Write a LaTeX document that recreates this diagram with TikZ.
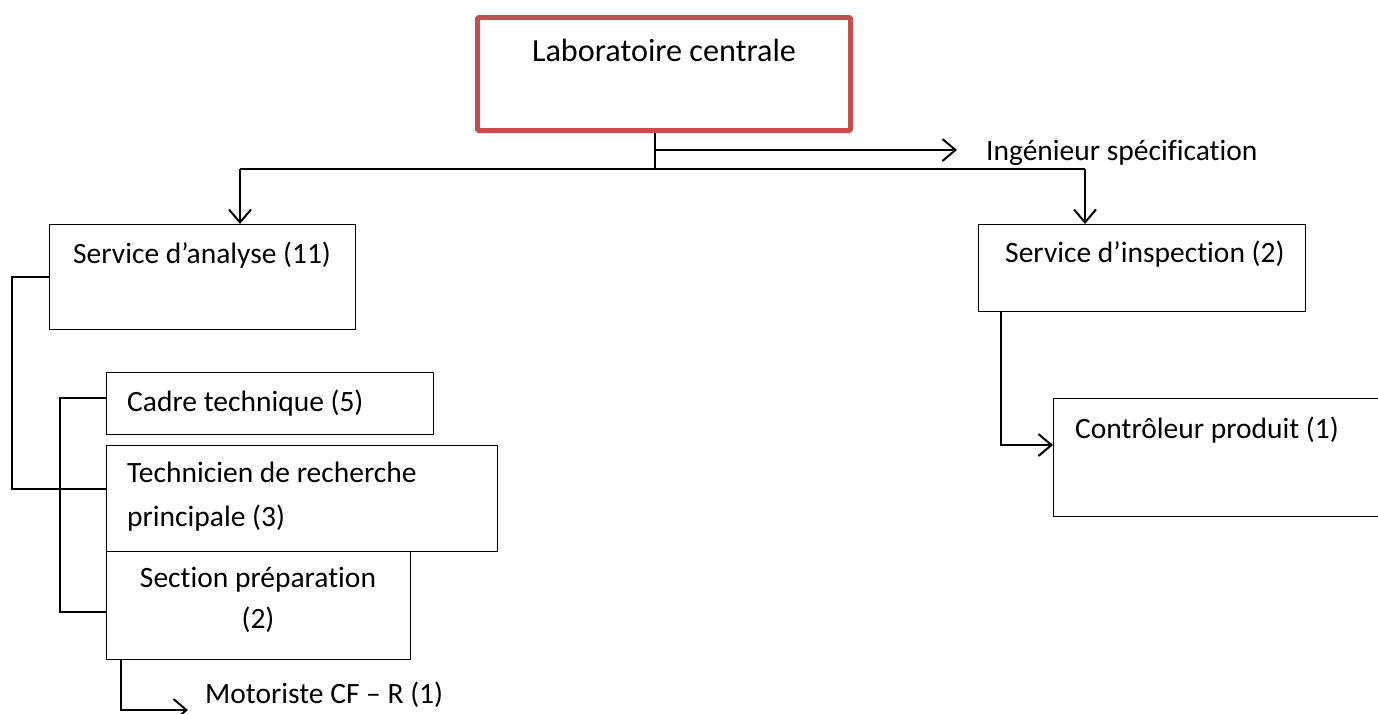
\documentclass[tikz,border=0pt]{standalone}
\usepackage{fontspec}
\setmainfont{Carlito}[Ligatures=NoCommon]
\usetikzlibrary{arrows.meta}
\definecolor{labred}{HTML}{C0504D}
\begin{document}
\begin{tikzpicture}[x=1pt,y=-1pt,
  box/.style={draw=black, line width=1.3pt, anchor=north west, inner sep=0pt},
  lbl/.style={inner sep=0pt, font=\fontsize{29.5}{44}\selectfont},
  link/.style={line width=2pt},
  arr/.style={link, -{Straight Barb[length=13pt,width=22pt,line width=2pt]}}]
\useasboundingbox (0,0) rectangle (1378,713);
\clip (0,0) rectangle (1378,713);

% boxes
\node[box, draw=labred, line width=5pt, rounded corners=1.5pt,
      minimum width=373pt, minimum height=113pt] (lab) at (475,15) {};
\node[box, minimum width=306pt, minimum height=105pt] (analyse) at (49,224) {};
\node[box, minimum width=327pt, minimum height=87pt] (inspect) at (978,224) {};
\node[box, minimum width=327pt, minimum height=62pt] (cadre) at (106,372) {};
\node[box, minimum width=391pt, minimum height=106pt] (tech) at (106,445) {};
\node[box, minimum width=304pt, minimum height=108pt] (section) at (106,551) {};
\node[box, minimum width=340pt, minimum height=118pt] (ctrl) at (1053,398) {};

% texts
\node[lbl, font=\fontsize{32.2}{40}\selectfont] (labtxt) at (664,50) {Laboratoire centrale};
\node[lbl, anchor=west] (ing) at (986,153) {Ingénieur spécification};
\node[lbl, anchor=west] (analysetxt) at (73,255) {Service d’analyse (11)};
\node[lbl, anchor=west] (inspecttxt) at (1005,254) {Service d’inspection (2)};
\node[lbl, anchor=west] (cadretxt) at (127,403) {Cadre technique (5)};
\node[lbl, anchor=west, align=left] (techtxt) at (127,497) {Technicien de recherche\\principale (3)};
\node[lbl, anchor=center, align=center, font=\fontsize{29.5}{41}\selectfont] (sectiontxt) at (258,600) {Section préparation\\(2)};
\node[lbl, anchor=west] (moto) at (205,695) {Motoriste CF – R (1)};
\node[lbl, anchor=west] (ctrltxt) at (1075,430) {Contrôleur produit (1)};

% connectors
\coordinate (hub) at (655,169);
\coordinate (dropL) at (240,169);
\coordinate (dropR) at (1085,169);
\coordinate (ingfrom) at (655,150);
\coordinate (motoarr) at (188,710);

\draw[link] (lab.south -| hub) -- (hub);
\draw[link] (dropL) -- (dropR);
\draw[arr] (dropL) -- (dropL |- analyse.north);
\draw[arr] (dropR) -- (dropR |- inspect.north);
\draw[arr] (ingfrom) -- ([xshift=-29pt]ing.west |- ingfrom);

\draw[link] (analyse.west |- 0,277) -- (12,277) |- (tech.west |- 0,489);
\draw[link] (cadre.west |- 0,398) -- (60,398) |- (section.west |- 0,612);
\draw[arr] (section.south -| 121,0) |- (motoarr);
\draw[arr] (inspect.south -| 1001,0) |- (ctrl.west |- 0,445);
\end{tikzpicture}
\end{document}
